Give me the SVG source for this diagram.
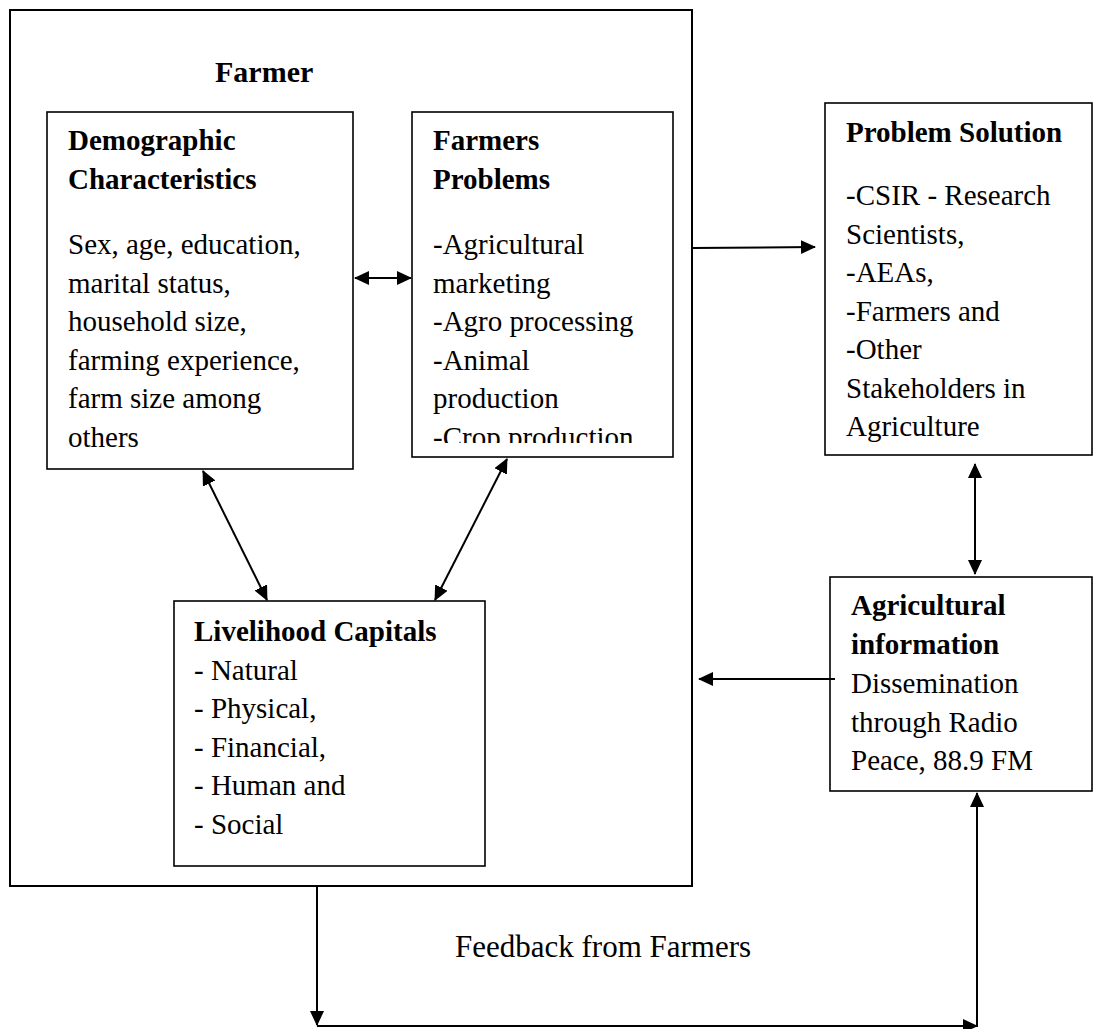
<svg xmlns="http://www.w3.org/2000/svg" width="1094" height="1029" viewBox="0 0 1094 1029">
<style>
.box{fill:#fff;stroke:#000;stroke-width:1.6}
.outer{fill:#fff;stroke:#000;stroke-width:2}
text{font-family:"Liberation Serif","Times New Roman",serif;font-size:29px;fill:#000}
.b{font-weight:bold}
.ln{fill:none;stroke:#000;stroke-width:2}
</style>
<defs>
<marker id="ah" markerUnits="userSpaceOnUse" markerWidth="15" markerHeight="15" viewBox="0 0 15 15" refX="14" refY="7" orient="auto-start-reverse">
<path d="M0,0 L15,7 L0,14 z" fill="#000"/>
</marker>
<clipPath id="fpclip"><rect x="412" y="112" width="262" height="331"/></clipPath>
</defs>
<g id="farmer">
<rect class="outer" x="10" y="10" width="682" height="876"/>
<text class="b" x="215" y="82" style="font-size:30px">Farmer</text>
</g>
<g id="demographic">
<rect class="box" x="47" y="112" width="306" height="357"/>
<text class="b" x="68" y="150">Demographic</text>
<text class="b" x="68" y="189">Characteristics</text>
<text x="68" y="254">Sex, age, education,</text>
<text x="68" y="292.5">marital status,</text>
<text x="68" y="331">household size,</text>
<text x="68" y="369.5">farming experience,</text>
<text x="68" y="408">farm size among</text>
<text x="68" y="446.5">others</text>
</g>
<g id="problems">
<rect class="box" x="412" y="112" width="261" height="345"/>
<g clip-path="url(#fpclip)">
<text class="b" x="433" y="150">Farmers</text>
<text class="b" x="433" y="189">Problems</text>
<text x="433" y="254">-Agricultural</text>
<text x="433" y="292.5">marketing</text>
<text x="433" y="331">-Agro processing</text>
<text x="433" y="369.5">-Animal</text>
<text x="433" y="408">production</text>
<text x="433" y="447">-Crop production</text>
</g>
</g>
<g id="livelihood">
<rect class="box" x="174" y="601" width="311" height="265"/>
<text class="b" x="194" y="641">Livelihood Capitals</text>
<text x="194" y="679.5">- Natural</text>
<text x="194" y="718">- Physical,</text>
<text x="194" y="756.5">- Financial,</text>
<text x="194" y="795">- Human and</text>
<text x="194" y="833.5">- Social</text>
</g>
<g id="solution">
<rect class="box" x="825" y="103" width="267" height="352"/>
<text class="b" x="846" y="142">Problem Solution</text>
<text x="846" y="205">-CSIR - Research</text>
<text x="846" y="243.5">Scientists,</text>
<text x="846" y="282">-AEAs,</text>
<text x="846" y="320.5">-Farmers and</text>
<text x="846" y="359">-Other</text>
<text x="846" y="397.5">Stakeholders in</text>
<text x="846" y="436">Agriculture</text>
</g>
<g id="information">
<rect class="box" x="830" y="577" width="262" height="214"/>
<text class="b" x="851" y="615">Agricultural</text>
<text class="b" x="851" y="654">information</text>
<text x="851" y="693">Dissemination</text>
<text x="851" y="731.5">through Radio</text>
<text x="851" y="770">Peace, 88.9 FM</text>
</g>
<g id="feedback-label">
<text x="455" y="957" style="font-size:31px">Feedback from Farmers</text>
</g>
<g id="connectors">
<line class="ln" x1="355" y1="278" x2="411" y2="278" marker-start="url(#ah)" marker-end="url(#ah)"/>
<line class="ln" x1="203" y1="471" x2="267" y2="600" marker-start="url(#ah)" marker-end="url(#ah)"/>
<line class="ln" x1="507" y1="459" x2="435" y2="600" marker-start="url(#ah)" marker-end="url(#ah)"/>
<line class="ln" x1="693" y1="248" x2="815" y2="247" marker-end="url(#ah)"/>
<line class="ln" x1="975" y1="464" x2="975" y2="574" marker-start="url(#ah)" marker-end="url(#ah)"/>
<line class="ln" x1="835" y1="679" x2="699" y2="679" marker-end="url(#ah)"/>
<line class="ln" x1="317" y1="886" x2="317" y2="1025" marker-end="url(#ah)"/>
<line class="ln" x1="317" y1="1026" x2="977" y2="1026" marker-end="url(#ah)"/>
<line class="ln" x1="977" y1="1027" x2="977" y2="793" marker-end="url(#ah)"/>
</g>
</svg>
